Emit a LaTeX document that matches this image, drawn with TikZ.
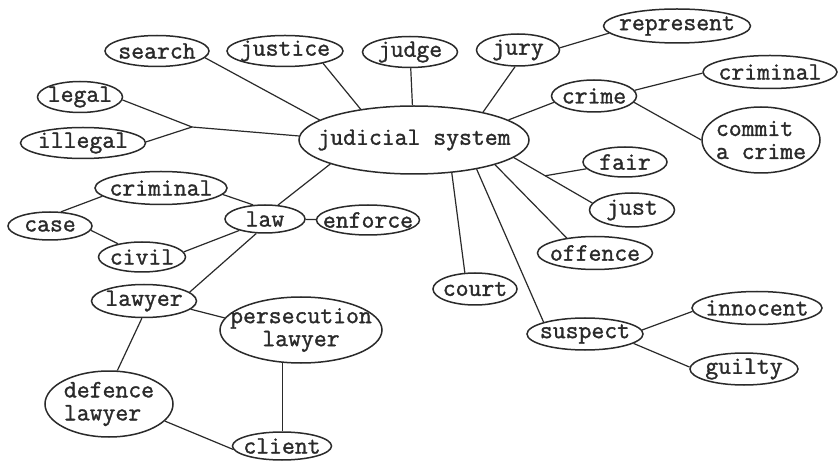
\documentclass[tikz,border=0pt]{standalone}
\usepackage{fontspec}
\newfontfamily\tw{Latin Modern Mono}[FakeBold=1.3]
\usetikzlibrary{shapes.geometric,calc}
\definecolor{ink}{HTML}{2A2A2A}
\begin{document}
\begin{tikzpicture}[x=1pt,y=-1pt,
  bub/.style={draw=ink, line width=1.5pt, ellipse, inner sep=0pt},
  sz/.style 2 args={minimum width=#1pt, minimum height=#2pt},
  lab/.style={font=\tw\fontsize{25}{23}\selectfont, text=ink, inner sep=0pt, align=center},
  labl/.style={lab, align=left},
  con/.style={draw=ink, line width=1.2pt}]
\fill[white] (0,0) rectangle (838,462);
\useasboundingbox (0,0) rectangle (838,462);
% nodes
\node[bub, sz={230}{68}, label={[lab]center:judicial system}] (sys) at (414,140) {};
\node[bub, sz={104}{31}, label={[lab]center:search}] (search) at (157,51) {};
\node[bub, sz={116}{31}, label={[lab]center:justice}] (justice) at (285,51) {};
\node[bub, sz={95}{31}, label={[lab]center:judge}] (judge) at (410,52) {};
\node[bub, sz={83}{32}, label={[lab]center:jury}] (jury) at (518,50) {};
\node[bub, sz={147}{34}, label={[lab]center:represent}] (represent) at (677,26) {};
\node[bub, sz={85}{31}, label={[lab]center:legal}] (legal) at (80,97) {};
\node[bub, sz={125}{31}, label={[lab]center:illegal}] (illegal) at (83,143) {};
\node[bub, sz={85}{32}, label={[lab]center:crime}] (crime) at (594,96) {};
\node[bub, sz={134}{33}, label={[lab]center:criminal}] (crimR) at (770,72) {};
\node[bub, sz={118}{66}, label={[labl]center:commit\\a crime}] (commit) at (761,140) {};
\node[bub, sz={84}{30}, label={[lab]center:fair}] (fair) at (625,162) {};
\node[bub, sz={85}{34}, label={[lab]center:just}] (just) at (632,210) {};
\node[bub, sz={115}{33}, label={[lab]center:offence}] (offence) at (595,253) {};
\node[bub, sz={84}{32}, label={[lab]center:court}] (court) at (475,289) {};
\node[bub, sz={116}{32}, label={[lab]center:suspect}] (suspect) at (585,334) {};
\node[bub, sz={130}{33}, label={[lab]center:innocent}] (innocent) at (757,308) {};
\node[bub, sz={108}{32}, label={[lab]center:guilty}] (guilty) at (744,369) {};
\node[bub, sz={132}{33}, label={[lab]center:criminal}] (crimL) at (161,188) {};
\node[bub, sz={84}{28}, label={[lab]center:case}] (case) at (50,226) {};
\node[bub, sz={87}{30}, label={[lab]center:civil}] (civil) at (142,257) {};
\node[bub, sz={80}{28}, label={[lab]center:law}] (law) at (265,219) {};
\node[bub, sz={103}{30}, label={[lab]center:enforce}] (enforce) at (368,220) {};
\node[bub, sz={105}{33}, label={[lab]center:lawyer}] (lawyer) at (144,301) {};
\node[bub, sz={162}{66}, label={[lab]center:persecution\\lawyer}] (pers) at (301,330) {};
\node[bub, sz={128}{66}, label={[labl]center:defence\\lawyer}] (defence) at (109,404) {};
\node[bub, sz={99}{28}, label={[lab]center:client}] (client) at (282,446) {};
% junctions
\coordinate (lj) at (192,127);
\coordinate (fj) at ($(sys.-10)!0.4!(just.170)$);
% connectors
\draw[con] (search.-8) -- (sys.168);
\draw[con] (justice.-18) -- (sys.150);
\draw[con] (judge) -- (sys);
\draw[con] (jury.-100) -- (sys.22);
\draw[con] (jury.3) -- (represent.186);
\draw[con] (crime.189) -- (sys.12);
\draw[con] (crime.8) -- (crimR.181);
\draw[con] (crime.-9) -- (commit.180);
\draw[con] (sys.-10) -- (just.170);
\draw[con] (fair.190) -- (fj);
\draw[con] (sys.-17) -- (offence.152);
\draw[con] (sys.-41) -- (court.122);
\draw[con] (sys.-25) -- (suspect.164);
\draw[con] (suspect.4) -- (innocent.183);
\draw[con] (suspect.-11) -- (guilty.178);
\draw[con] (legal.-4) -- (lj);
\draw[con] (illegal.1) -- (lj);
\draw[con] (lj) -- (sys.178);
\draw[con] (sys.196) -- (law.47);
\draw[con] (law) -- (enforce);
\draw[con] (crimL.-6) -- (law.130);
\draw[con] (civil.7) -- (law.204);
\draw[con] (case.52) -- (crimL.188);
\draw[con] (case.-6) -- (civil.151);
\draw[con] (law.239) -- (lawyer.11);
\draw[con] (lawyer.-10) -- (pers.171);
\draw[con] (lawyer.-97) -- (defence.76);
\draw[con] (defence.-17) -- (client.184);
\draw[con] (pers.241) -- (pers.241 |- client.north);
\end{tikzpicture}
\end{document}
